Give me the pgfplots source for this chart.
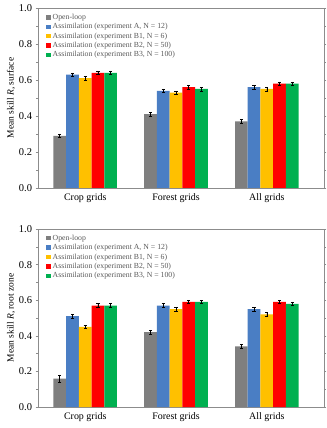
\documentclass[border=0pt]{standalone}
\usepackage{pgfplots}
\pgfplotsset{compat=1.18}
\usepackage{fontspec}
\setmainfont{Liberation Serif}

\definecolor{olgray}{HTML}{7F7F7F}
\definecolor{expA}{HTML}{4A7EC4}
\definecolor{expB1}{HTML}{FFC000}
\definecolor{expB2}{HTML}{FF0000}
\definecolor{expB3}{HTML}{00B050}
\definecolor{frame}{HTML}{8C8C8C}
\definecolor{legtext}{HTML}{595959}

\pgfplotsset{
  skillaxis/.style={
    scale only axis,
    width=286bp,
    ybar=0pt,
    bar width=0.14,
    xmin=-0.52, xmax=2.63,
    ymin=0, ymax=1,
    xtick={0,1,2},
    xticklabels={Crop grids, Forest grids, All grids},
    x tick style={draw=none},
    ytick={0,0.2,...,1.0},
    minor y tick num=1,
    yticklabel style={/pgf/number format/fixed,/pgf/number format/fixed zerofill,/pgf/number format/precision=1},
    /pgf/number format/assume math mode=true,
    tick label style={font=\fontsize{10.5}{12}\selectfont},
    xticklabel style={font=\fontsize{10}{12}\selectfont},
    y tick style={frame, line width=0.5pt},
    tick align=outside,
    major tick length=2.5pt,
    minor tick length=2pt,
    axis line style={frame, line width=0.9pt},
    label style={font=\fontsize{9.5}{11}\selectfont},
    ylabel style={yshift=-3pt},
    legend cell align=left,
    legend style={at={(0.025,0.985)}, anchor=north west, draw=none, fill=none,
      font=\fontsize{7.8}{8.6}\selectfont, text=legtext,
      row sep=-1.5pt, inner sep=1pt},
    legend image code/.code={\fill[##1] (0pt,-2.2pt) rectangle (4.4pt,2.2pt);},
    every axis plot/.append style={draw=none,
      error bars/y dir=both, error bars/y explicit,
      error bars/error bar style={black, line width=0.6pt},
      error bars/error mark options={rotate=90, mark size=1.6pt, black, line width=0.6pt}},
  }
}

\begin{document}
\begin{tikzpicture}
\useasboundingbox (-38bp,-240bp) rectangle (289bp,188bp);

% surface soil moisture skill
\begin{axis}[skillaxis, height=180bp, at={(0bp,0bp)}, anchor=south west,
  ylabel={Mean skill \textit{R}, surface}]
\addplot[fill=olgray] coordinates {(0,0.29) +- (0,0.01) (1,0.41) +- (0,0.01) (2,0.37) +- (0,0.01)};
\addplot[fill=expA] coordinates {(0,0.63) +- (0,0.01) (1,0.54) +- (0,0.01) (2,0.56) +- (0,0.01)};
\addplot[fill=expB1] coordinates {(0,0.61) +- (0,0.01) (1,0.53) +- (0,0.01) (2,0.55) +- (0,0.01)};
\addplot[fill=expB2] coordinates {(0,0.64) +- (0,0.01) (1,0.56) +- (0,0.01) (2,0.58) +- (0,0.01)};
\addplot[fill=expB3] coordinates {(0,0.64) +- (0,0.01) (1,0.55) +- (0,0.01) (2,0.58) +- (0,0.01)};
\legend{Open-loop,
  {Assimilation (experiment A, N = 12)},
  {Assimilation (experiment B1, N = 6)},
  {Assimilation (experiment B2, N = 50)},
  {Assimilation (experiment B3, N = 100)}}
\end{axis}

% root-zone soil moisture skill
\begin{axis}[skillaxis, height=178bp, at={(0bp,-219bp)}, anchor=south west,
  ylabel={Mean skill \textit{R}, root zone}]
\addplot[fill=olgray] coordinates {(0,0.16) +- (0,0.02) (1,0.42) +- (0,0.01) (2,0.34) +- (0,0.01)};
\addplot[fill=expA] coordinates {(0,0.51) +- (0,0.01) (1,0.57) +- (0,0.01) (2,0.55) +- (0,0.01)};
\addplot[fill=expB1] coordinates {(0,0.45) +- (0,0.01) (1,0.55) +- (0,0.01) (2,0.52) +- (0,0.01)};
\addplot[fill=expB2] coordinates {(0,0.57) +- (0,0.01) (1,0.59) +- (0,0.01) (2,0.59) +- (0,0.01)};
\addplot[fill=expB3] coordinates {(0,0.57) +- (0,0.01) (1,0.59) +- (0,0.01) (2,0.58) +- (0,0.01)};
\legend{Open-loop,
  {Assimilation (experiment A, N = 12)},
  {Assimilation (experiment B1, N = 6)},
  {Assimilation (experiment B2, N = 50)},
  {Assimilation (experiment B3, N = 100)}}
\end{axis}
\end{tikzpicture}
\end{document}
